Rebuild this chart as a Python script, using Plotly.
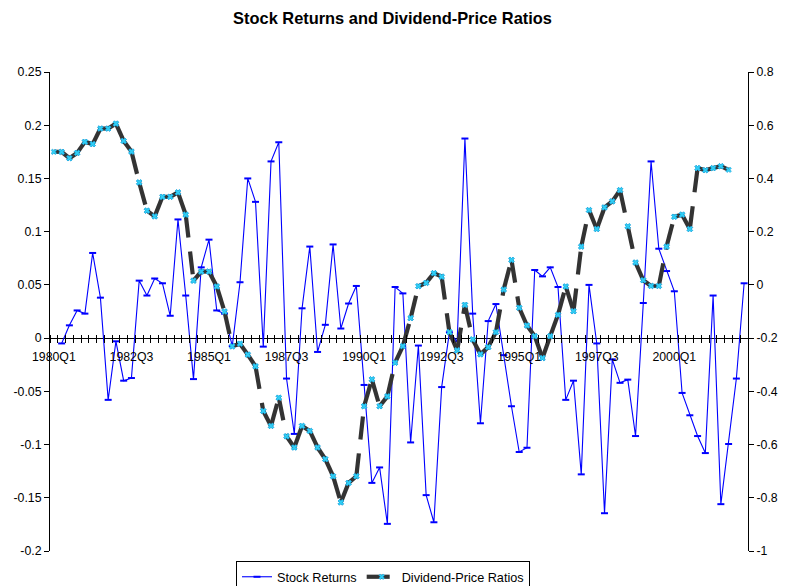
import plotly.graph_objects as go

# ---------------- data ----------------
quarters = [f"{1980 + i // 4}Q{i % 4 + 1}" for i in range(90)]  # 1980Q1 .. 2002Q2

stock_returns = [
    None, -0.005, 0.012, 0.026, 0.023, 0.080, 0.038, -0.058, -0.003, -0.040,
    -0.0375, 0.054, 0.040, 0.056, 0.0515, 0.021, 0.1115, 0.040, -0.0385, 0.0665,
    0.0925, 0.026, 0.023, -0.0075, 0.0525, 0.150, 0.128, -0.008, 0.166, 0.184,
    -0.038, -0.090, 0.028, 0.086, -0.013, 0.0125, 0.088, 0.009, 0.0325, 0.049,
    -0.044, -0.136, -0.1215, -0.1745, 0.048, 0.042, -0.098, -0.007, -0.1475, -0.173,
    -0.046, 0.0055, -0.003, 0.1875, 0.023, -0.080, 0.016, 0.032, -0.016, -0.064,
    -0.107, -0.103, 0.064, 0.058, 0.0665, 0.048, -0.058, -0.040, -0.128, 0.050,
    -0.005, -0.1645, -0.020, -0.042, -0.039, -0.092, 0.033, 0.166, 0.084, 0.063,
    0.044, -0.0515, -0.0725, -0.092, -0.108, 0.040, -0.156, -0.0995, -0.038, 0.0515,
]

dp_ratios = [
    0.500, 0.500, 0.476, 0.496, 0.5375, 0.529, 0.5875, 0.5875, 0.606, 0.541,
    0.501, 0.385, 0.279, 0.2575, 0.331, 0.331, 0.3475, 0.264, 0.016, 0.050,
    0.050, -0.006, -0.100, -0.231, -0.221, -0.262, -0.306, -0.474, -0.530, -0.424,
    -0.569, -0.611, -0.530, -0.549, -0.611, -0.655, -0.719, -0.8175, -0.744, -0.719,
    -0.456, -0.355, -0.456, -0.419, -0.2925, -0.230, -0.125, -0.005, 0.0075, 0.044,
    0.031, -0.1775, -0.246, -0.075, -0.205, -0.261, -0.234, -0.1775, -0.0175, 0.094,
    -0.086, -0.1525, -0.1925, -0.275, -0.1925, -0.1125, -0.006, -0.099, 0.144, 0.281,
    0.210, 0.291, 0.314, 0.356, 0.220, 0.084, 0.0175, -0.004, -0.004, 0.144,
    0.256, 0.264, 0.210, 0.439, 0.431, 0.439, 0.446, 0.4325, None, None,
]

left_ticks = [-0.2, -0.15, -0.1, -0.05, 0, 0.05, 0.1, 0.15, 0.2, 0.25]
left_tick_text = ["-0.2", "-0.15", "-0.1", "-0.05", "0", "0.05", "0.1", "0.15", "0.2", "0.25"]
right_ticks = [-1, -0.8, -0.6, -0.4, -0.2, 0, 0.2, 0.4, 0.6, 0.8]
right_tick_text = ["-1", "-0.8", "-0.6", "-0.4", "-0.2", "0", "0.2", "0.4", "0.6", "0.8"]
label_step = 10

# ---------------- derived ----------------
idx = list(range(len(quarters)))
label_pos = idx[::label_step][:9]
label_text = [quarters[i] for i in label_pos]
boundaries = [i - 0.5 for i in idx] + [idx[-1] + 0.5]

# dividend line as separate segments so that the dash pattern restarts at each point
seg_x, seg_y = [], []
for i in range(len(dp_ratios) - 1):
    if dp_ratios[i] is not None and dp_ratios[i + 1] is not None:
        seg_x += [idx[i], idx[i + 1], None]
        seg_y += [dp_ratios[i], dp_ratios[i + 1], None]

FONT = "Liberation Sans, Arial, sans-serif"
TICK = 12.3
W, H = 785, 586
ML, MR, MT, MB = 50, 37, 72, 35
plot_w = W - ML - MR
plot_h = H - MT - MB
yl = (left_ticks[0], left_ticks[-1])
zero_frac = (0 - yl[0]) / (yl[1] - yl[0])

fig = go.Figure()

fig.add_trace(go.Scatter(
    x=idx, y=stock_returns, name="Stock Returns", mode="lines+markers",
    line=dict(color="#0000FF", width=1.1),
    marker=dict(symbol="line-ew", size=5, line=dict(color="#0000FF", width=2)),
    xaxis="x", yaxis="y", connectgaps=False,
))

fig.add_trace(go.Scatter(
    x=seg_x, y=seg_y, name="Dividend-Price Ratios", mode="lines+markers",
    line=dict(color="#333333", width=4.2, dash="23px,14px"),
    marker=dict(symbol="x", size=5, color="#30CFF5",
                line=dict(color="#1B9BD6", width=0.5)),
    xaxis="x", yaxis="y2", connectgaps=False,
))

# helper (invisible) trace for the tick overlay axis
fig.add_trace(go.Scatter(x=[None], y=[None], xaxis="x2", yaxis="y",
                         showlegend=False, hoverinfo="skip", mode="lines"))

xrange = [boundaries[0], boundaries[-1]]

fig.update_layout(
    width=W, height=H,
    margin=dict(l=ML, r=MR, t=MT, b=MB, autoexpand=False),
    paper_bgcolor="white", plot_bgcolor="white",
    font=dict(family=FONT, size=TICK, color="black"),
    title=dict(text="<b>Stock Returns and Dividend-Price Ratios</b>",
               x=0.5, xref="container", xanchor="center",
               y=1 - 18 / H, yref="container", yanchor="middle",
               font=dict(family=FONT, size=16.4, color="black")),
    showlegend=True,
    legend=dict(orientation="h", x=(383 - ML) / plot_w, xanchor="center",
                y=-(561 - (MT + plot_h)) / plot_h, yanchor="top",
                bordercolor="black", borderwidth=1,
                bgcolor="white", font=dict(family=FONT, size=12.7, color="black"),
                itemwidth=30),
    xaxis=dict(range=xrange, anchor="free", position=zero_frac,
               tickmode="array", tickvals=label_pos, ticktext=label_text,
               ticks="outside", ticklen=7, tickcolor="rgba(0,0,0,0)",
               showline=False, showgrid=False, zeroline=False,
               tickfont=dict(family=FONT, size=TICK, color="black")),
    xaxis2=dict(range=xrange, overlaying="x", anchor="free",
                position=zero_frac + 4 / plot_h,
                tickmode="array", tickvals=boundaries, ticks="outside",
                ticklen=8, tickwidth=1, tickcolor="black",
                showticklabels=False, showline=False, showgrid=False, zeroline=False),
    yaxis=dict(range=list(yl), tickmode="array", tickvals=left_ticks,
               ticktext=left_tick_text, ticks="outside", ticklen=5, tickwidth=1,
               tickcolor="black", showline=True, linecolor="black", linewidth=1,
               showgrid=False, zeroline=True, zerolinecolor="black", zerolinewidth=1,
               anchor="x", tickfont=dict(family=FONT, size=TICK, color="black")),
    yaxis2=dict(range=[right_ticks[0], right_ticks[-1]], overlaying="y", side="right",
                anchor="x", tickmode="array", tickvals=right_ticks,
                ticktext=right_tick_text, ticks="outside", ticklen=5, tickwidth=1,
                tickcolor="black", showline=True, linecolor="black", linewidth=1,
                showgrid=False, zeroline=False,
                tickfont=dict(family=FONT, size=TICK, color="black")),
)

fig.write_html("out.html",
               config={"displayModeBar": False},
               post_script="document.body.style.margin='0';document.body.style.overflow='hidden';")
